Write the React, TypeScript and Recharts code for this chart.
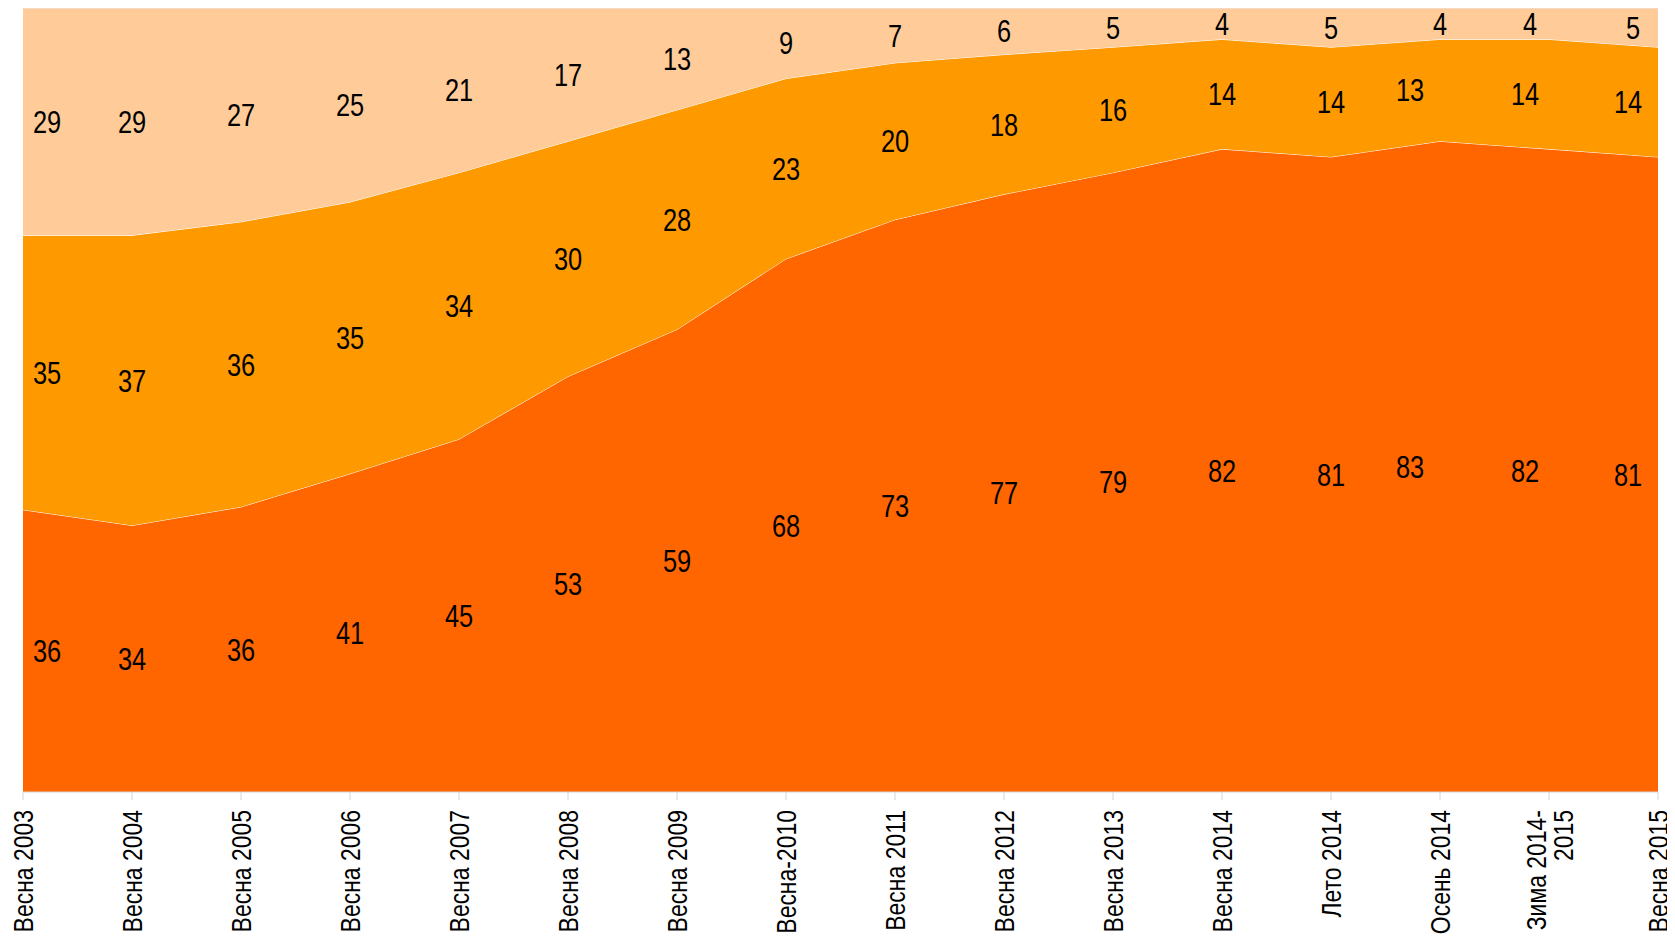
import React from "react";
import {
  ComposedChart,
  Area,
  Line,
  XAxis,
  YAxis,
  LabelList,
} from "recharts";

const categories = [
  "Весна 2003",
  "Весна 2004",
  "Весна 2005",
  "Весна 2006",
  "Весна 2007",
  "Весна 2008",
  "Весна 2009",
  "Весна-2010",
  "Весна 2011",
  "Весна 2012",
  "Весна 2013",
  "Весна 2014",
  "Лето 2014",
  "Осень 2014",
  "Зима 2014-\n2015",
  "Весна 2015",
];

const bottomValues = [36, 34, 36, 41, 45, 53, 59, 68, 73, 77, 79, 82, 81, 83, 82, 81];
const middleValues = [35, 37, 36, 35, 34, 30, 28, 23, 20, 18, 16, 14, 14, 13, 14, 14];
const topValues = [29, 29, 27, 25, 21, 17, 13, 9, 7, 6, 5, 4, 5, 4, 4, 5];

const data = categories.map((name, i) => {
  const a = bottomValues[i];
  const b = middleValues[i];
  const c = topValues[i];
  const s = a + b + c;
  return {
    name,
    bottom: a,
    middle: b,
    top: c,
    mBottom: a / 2 / s,
    mMiddle: (a + b / 2) / s,
    mTop: (a + b + c / 2) / s,
  };
});

const FONT = "'Liberation Sans', Arial, sans-serif";
const NARROW = 0.82;

const DX_LOW: Record<number, number> = { 0: 24, 13: -30, 14: -24, 15: -30 };
const DX_TOP: Record<number, number> = { 0: 24, 14: -19, 15: -25 };

const makeLabel = (dxMap: Record<number, number>) => (props: any) => {
  const { x, y, value, index } = props;
  const dx = dxMap[index] || 0;
  return (
    <g transform={`translate(${x + dx},${y}) scale(${NARROW},1)`}>
      <text
        x={0}
        y={0}
        dy="0.36em"
        textAnchor="middle"
        fontFamily={FONT}
        fontSize={31}
        fill="#000"
      >
        {value}
      </text>
    </g>
  );
};

const Tick = (props: any) => {
  const { x, y, payload } = props;
  const lines = String(payload.value).split("\n");
  const lh = 27;
  return (
    <g transform={`translate(${x},${y})`}>
      {lines.map((l, i) => (
        <g
          key={i}
          transform={`translate(${(i - (lines.length - 1) / 2) * lh},0) rotate(-90) scale(${NARROW},1)`}
        >
          <text
            x={-8 / NARROW}
            y={0}
            dy="0.36em"
            textAnchor="end"
            fontFamily={FONT}
            fontSize={28}
            fill="#000"
          >
            {l}
          </text>
        </g>
      ))}
    </g>
  );
};

export default function App() {
  return (
    <ComposedChart
      width={1659}
      height={931}
      data={data}
      stackOffset="expand"
      margin={{ top: 0, right: 9, bottom: 0, left: 15 }}
    >
      <XAxis
        dataKey="name"
        interval={0}
        height={147}
        tick={<Tick />}
        tickSize={8}
        stroke="#d4d4d4"
        tickLine={{ stroke: "#d4d4d4" }}
      />
      <YAxis
        width={0}
        domain={[0, 1]}
        tick={false}
        tickLine={false}
        axisLine={{ stroke: "#cfcfcf" }}
      />
      <Area
        type="linear"
        dataKey="bottom"
        stackId="s"
        fill="#FF6600"
        fillOpacity={1}
        stroke="#ffffff"
        strokeWidth={1}
        isAnimationActive={false}
      />
      <Area
        type="linear"
        dataKey="middle"
        stackId="s"
        fill="#FF9900"
        fillOpacity={1}
        stroke="#ffffff"
        strokeWidth={1}
        isAnimationActive={false}
      />
      <Area
        type="linear"
        dataKey="top"
        stackId="s"
        fill="#FFCC99"
        fillOpacity={1}
        stroke="#e6e6e6"
        strokeWidth={1}
        isAnimationActive={false}
      />
      <Line
        dataKey="mBottom"
        stroke="none"
        dot={false}
        activeDot={false}
        isAnimationActive={false}
      >
        <LabelList dataKey="bottom" content={makeLabel(DX_LOW)} />
      </Line>
      <Line
        dataKey="mMiddle"
        stroke="none"
        dot={false}
        activeDot={false}
        isAnimationActive={false}
      >
        <LabelList dataKey="middle" content={makeLabel(DX_LOW)} />
      </Line>
      <Line
        dataKey="mTop"
        stroke="none"
        dot={false}
        activeDot={false}
        isAnimationActive={false}
      >
        <LabelList dataKey="top" content={makeLabel(DX_TOP)} />
      </Line>
    </ComposedChart>
  );
}
